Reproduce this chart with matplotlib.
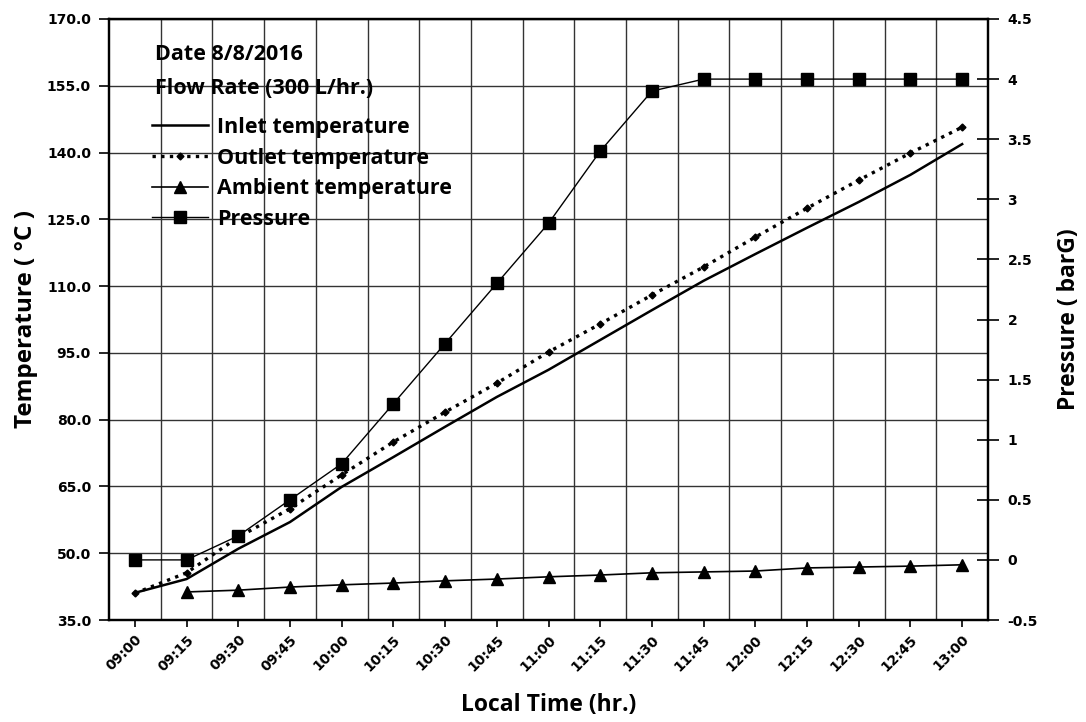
import numpy as np
import matplotlib
matplotlib.use("Agg")
import matplotlib.pyplot as plt
from matplotlib.lines import Line2D
from matplotlib.ticker import FixedLocator, FuncFormatter

# data
times = ['09:00', '09:15', '09:30', '09:45', '10:00', '10:15', '10:30', '10:45',
         '11:00', '11:15', '11:30', '11:45', '12:00', '12:15', '12:30', '12:45', '13:00']
inlet = [41.1, 44.2, 51.0, 57.0, 64.9, 71.6, 78.4, 85.1, 91.2, 97.9,
         104.6, 111.2, 117.2, 123.1, 128.9, 135.0, 141.9]
outlet = [41.0, 45.6, 53.6, 60.0, 67.6, 75.0, 81.7, 88.2, 95.2, 101.5,
          108.0, 114.3, 121.0, 127.5, 133.8, 139.9, 145.7]
ambient = [np.nan, 41.3, 41.7, 42.4, 42.9, 43.3, 43.8, 44.2, 44.7, 45.1,
           45.6, 45.8, 46.0, 46.7, 46.9, 47.1, 47.4]
pressure = [0.0, 0.0, 0.2, 0.5, 0.8, 1.3, 1.8, 2.3, 2.8, 3.4,
            3.9, 4.0, 4.0, 4.0, 4.0, 4.0, 4.0]

temp_ticks = [35.0, 50.0, 65.0, 80.0, 95.0, 110.0, 125.0, 140.0, 155.0, 170.0]
pres_ticks = [-0.5, 0, 0.5, 1, 1.5, 2, 2.5, 3, 3.5, 4, 4.5]

label_font = 'Open Sans'
tick_font = 'DejaVu Sans'

fig = plt.figure(figsize=(10.86, 7.22), dpi=100)
ax = fig.add_axes([109 / 1086, 1 - 620 / 722, 879 / 1086, 601 / 722])
ax2 = ax.twinx()

x = np.arange(len(times))

# temperature series on left axis
ax.plot(x, inlet, color='black', lw=1.8, zorder=3)
ax.plot(x, outlet, color='black', lw=2.4, ls=(0, (1, 1.6)), marker='D',
        ms=3.5, zorder=3)
ax.plot(x, ambient, color='black', lw=1.2, marker='^', ms=9, zorder=3)

# pressure on right axis
ax2.plot(x, pressure, color='black', lw=1.0, marker='s', ms=9, zorder=3)

ax.set_xlim(-0.5, len(times) - 0.5)
ax.set_ylim(35, 170)
ax2.set_ylim(-0.5, 4.5)

# grid: vertical lines between categories, horizontal on left ticks
ax.xaxis.set_major_locator(FixedLocator(x))
ax.xaxis.set_minor_locator(FixedLocator(x[:-1] + 0.5))
ax.set_xticklabels(times, rotation=45, ha='right', rotation_mode='anchor',
                   fontfamily=tick_font, fontweight='bold', fontsize=10)
ax.grid(True, which='minor', axis='x', color='#333333', lw=1.0)
ax.grid(True, which='major', axis='y', color='#333333', lw=1.0)
ax.tick_params(axis='x', which='minor', length=0)
ax.tick_params(axis='x', which='major', direction='out', length=5, width=1.2, pad=4)

ax.set_yticks(temp_ticks)
ax.yaxis.set_major_formatter(FuncFormatter(lambda v, p: f'{v:.1f}'))
ax.tick_params(axis='y', direction='out', length=7, width=1.2, pad=6)
for t in ax.get_yticklabels():
    t.set_fontfamily(tick_font)
    t.set_fontweight('bold')
    t.set_fontsize(10)

ax2.set_yticks(pres_ticks)
ax2.yaxis.set_major_formatter(FuncFormatter(lambda v, p: f'{v:g}'))
ax2.tick_params(axis='y', direction='inout', length=16, width=1.2, pad=6)
for t in ax2.get_yticklabels():
    t.set_fontfamily(tick_font)
    t.set_fontweight('bold')
    t.set_fontsize(10)

for a in (ax, ax2):
    for s in a.spines.values():
        s.set_linewidth(1.6)
        s.set_color('black')

ax.set_xlabel('Local Time (hr.)', fontfamily=label_font, fontweight='bold',
              fontsize=16.5, labelpad=14)
ax.set_ylabel('Temperature ( °C )', fontfamily=label_font, fontweight='bold',
              fontsize=17.5, labelpad=6)
ax2.set_ylabel('Pressure ( barG)', fontfamily=label_font, fontweight='bold',
               fontsize=16.5, labelpad=14)

# annotation text above the legend
ax.text(0.052, 0.932, 'Date 8/8/2016', transform=ax.transAxes, va='baseline',
        fontfamily=label_font, fontweight='bold', fontsize=15.5, zorder=5)
ax.text(0.052, 0.875, 'Flow Rate (300 L/hr.)', transform=ax.transAxes,
        va='baseline', fontfamily=label_font, fontweight='bold', fontsize=15.5,
        zorder=5)

handles = [
    Line2D([], [], color='black', lw=1.8),
    Line2D([], [], color='black', lw=2.4, ls=(0, (1, 1.6)), marker='D', ms=3.5),
    Line2D([], [], color='black', lw=1.2, marker='^', ms=9),
    Line2D([], [], color='black', lw=1.0, marker='s', ms=9),
]
names = ['Inlet temperature', 'Outlet temperature', 'Ambient temperature', 'Pressure']
leg = ax2.legend(handles, names, loc='upper left', bbox_to_anchor=(0.049, 0.837),
                 frameon=False, borderaxespad=0, borderpad=0, handlelength=2.6,
                 handletextpad=0.4, labelspacing=0.45,
                 prop={'family': label_font, 'weight': 'bold', 'size': 15.5})

fig.savefig('out.png', dpi=100)
